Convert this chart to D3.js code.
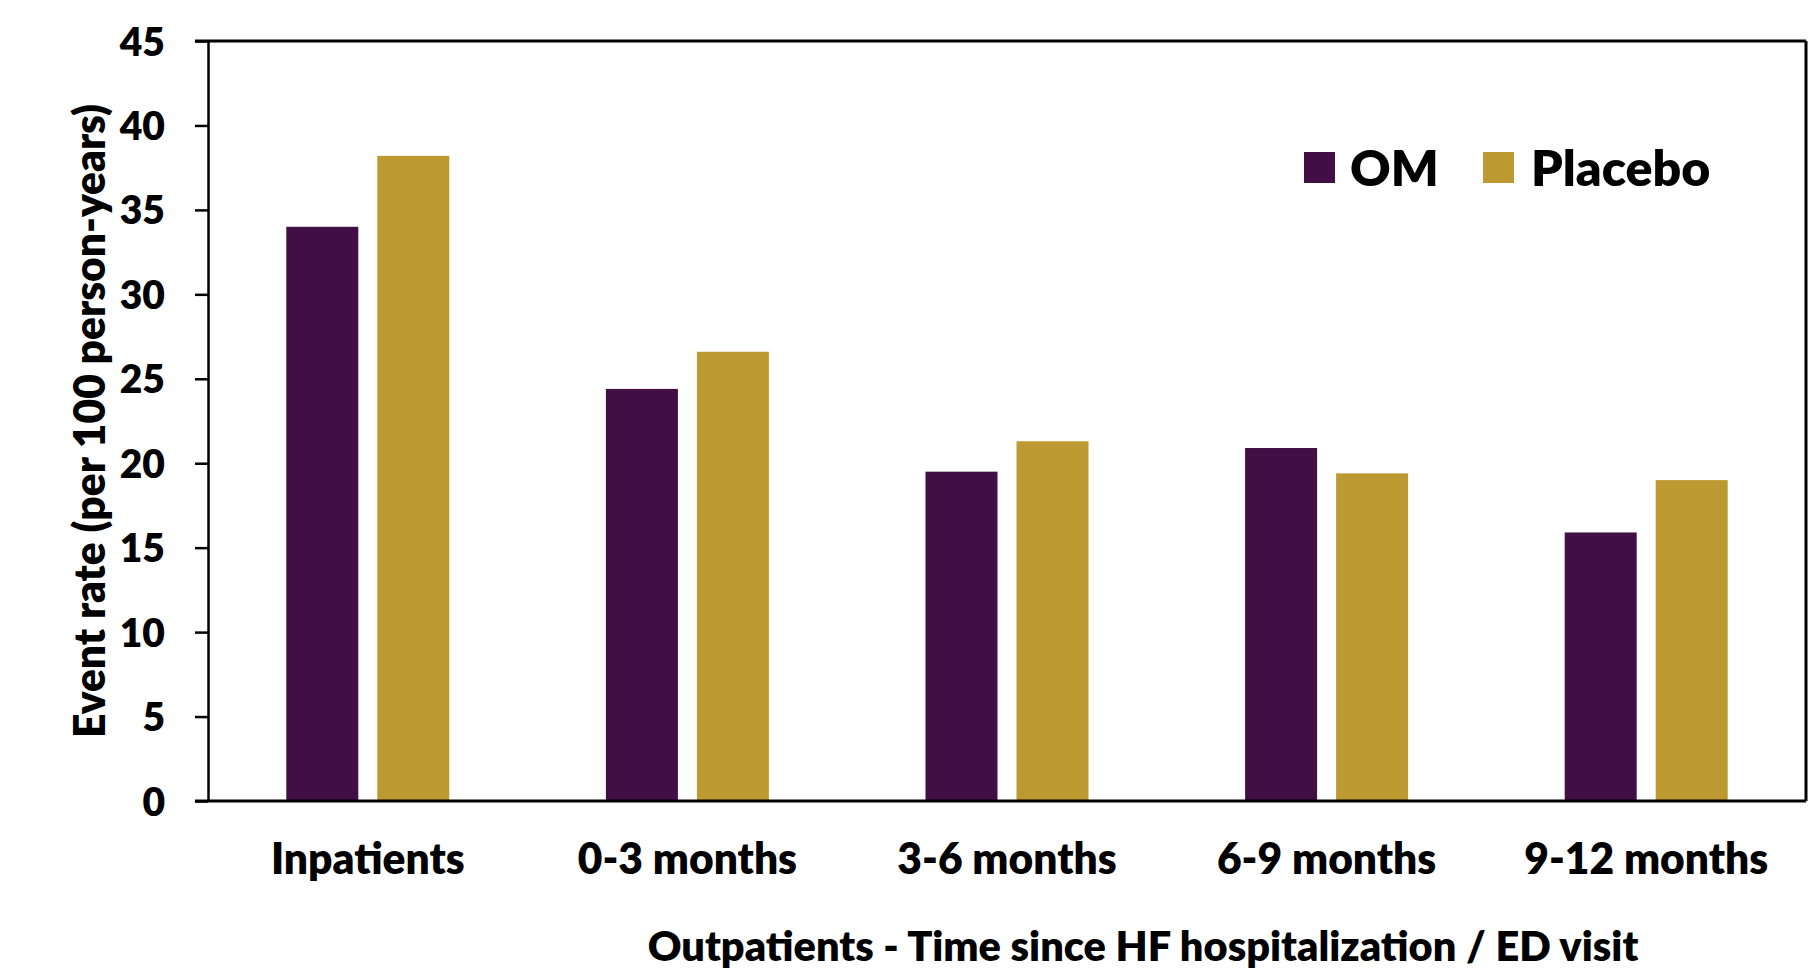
<!DOCTYPE html>
<html>
<head>
<meta charset="utf-8">
<script src="https://cdn.jsdelivr.net/npm/d3@7"></script>
<style>
  html, body { margin: 0; padding: 0; background: #fff; }
  svg { display: block; }
  text { font-family: Lato, "Open Sans", sans-serif; font-weight: 800; fill: #000; }
</style>
</head>
<body>
<svg id="chart" width="1808" height="972"></svg>
<script>
// Event rates per 100 person-years by timing group
const categories = ["Inpatients", "0-3 months", "3-6 months", "6-9 months", "9-12 months"];
const seriesNames = ["OM", "Placebo"];
const omValues = [34.0, 24.4, 19.5, 20.9, 15.9];
const placeboValues = [38.2, 26.6, 21.3, 19.4, 19.0];
const yTicks = [0, 5, 10, 15, 20, 25, 30, 35, 40, 45];
const yTitle = "Event rate (per 100 person-years)";
const xTitle = "Outpatients - Time since HF hospitalization / ED visit";

const colors = { OM: "#410F45", Placebo: "#BD9A31" };

const svg = d3.select("#chart");
const plot = { left: 208, right: 1806, top: 41, bottom: 801 };

const x = d3.scaleBand().domain(categories).range([plot.left, plot.right]).padding(0);
const xSub = d3.scaleBand().domain(seriesNames).range([-81.5, 81.5]).paddingInner(19 / 91).paddingOuter(0);
const y = d3.scaleLinear().domain([0, 45]).range([plot.bottom, plot.top]);

const rows = categories.map((c, i) => ({ cat: c, OM: omValues[i], Placebo: placeboValues[i] }));

// bars
const groups = svg.append("g").selectAll("g").data(rows).join("g")
  .attr("transform", d => `translate(${x(d.cat) + x.bandwidth() / 2},0)`);
groups.selectAll("rect")
  .data(d => seriesNames.map(s => ({ s, v: d[s] })))
  .join("rect")
  .attr("x", d => xSub(d.s))
  .attr("width", xSub.bandwidth())
  .attr("y", d => y(d.v))
  .attr("height", d => y(0) - y(d.v))
  .attr("fill", d => colors[d.s]);

// frame: top and right edges
svg.append("line").attr("x1", 195).attr("x2", plot.right).attr("y1", plot.top).attr("y2", plot.top)
  .attr("stroke", "#000").attr("stroke-width", 3);
svg.append("line").attr("x1", plot.right).attr("x2", plot.right).attr("y1", plot.top).attr("y2", plot.bottom)
  .attr("stroke", "#000").attr("stroke-width", 3);

// y axis
const yAxis = svg.append("g").attr("transform", `translate(${plot.left},0)`)
  .call(d3.axisLeft(y).tickValues(yTicks).tickSize(13).tickPadding(30).tickSizeOuter(0));
yAxis.select(".domain").attr("stroke", "#000").attr("stroke-width", 2.5);
yAxis.selectAll(".tick line").attr("stroke", "#000").attr("stroke-width", 2.5);
yAxis.selectAll(".tick text").attr("font-size", 39).attr("font-family", "Lato").attr("font-weight", 800)
  .attr("fill", "#000").attr("dy", "0.36em");

// x axis
const xAxis = svg.append("g").attr("transform", `translate(0,${plot.bottom})`)
  .call(d3.axisBottom(x).tickSize(0).tickPadding(43));
xAxis.select(".domain").remove();
xAxis.selectAll(".tick text").attr("font-size", 42.5).attr("font-family", "Lato").attr("font-weight", 800)
  .attr("fill", "#000");
svg.append("line").attr("x1", 195).attr("x2", plot.right).attr("y1", plot.bottom).attr("y2", plot.bottom)
  .attr("stroke", "#000").attr("stroke-width", 3);

// axis titles
svg.append("text")
  .attr("transform", `translate(105,${(plot.top + plot.bottom) / 2}) rotate(-90)`)
  .attr("text-anchor", "middle").attr("font-size", 42.5)
  .text(yTitle);
svg.append("text")
  .attr("x", 1143).attr("y", 961)
  .attr("text-anchor", "middle").attr("font-size", 41.5)
  .text(xTitle);

// legend
const legend = svg.append("g");
const legendItems = [{ s: "OM", x: 1304, tx: 1350 }, { s: "Placebo", x: 1483, tx: 1531 }];
legendItems.forEach(it => {
  legend.append("rect").attr("x", it.x).attr("y", 152).attr("width", 31).attr("height", 31)
    .attr("fill", colors[it.s]);
  legend.append("text").attr("x", it.tx).attr("y", 186).attr("font-size", 50).text(it.s);
});
</script>
</body>
</html>
